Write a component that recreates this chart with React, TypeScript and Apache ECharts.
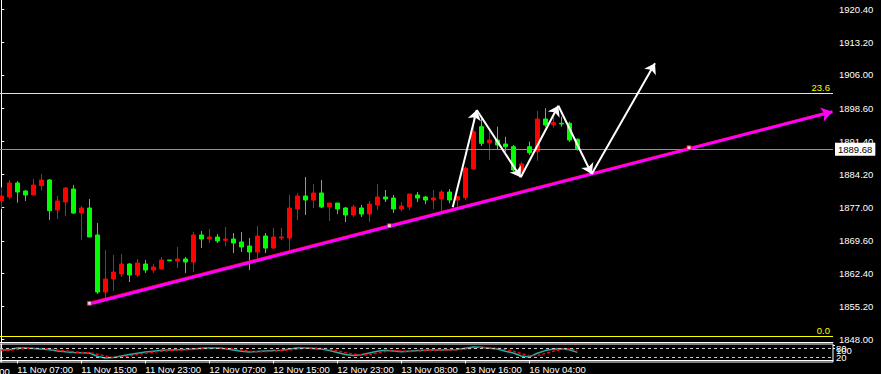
import React, { useEffect, useRef } from 'react';
import * as echarts from 'echarts';

// ---- Candles (H1), index 0 = 11 Nov 05:00 ----
const opens = [1878.42, 1879.22, 1882.29, 1880.54, 1879.66, 1881.70, 1882.95, 1876.37, 1878.12, 1880.97,
  1875.71, 1876.81, 1870.88, 1858.38, 1861.23, 1862.33, 1864.52, 1862.11, 1864.52, 1863.20,
  1863.42, 1865.40, 1865.18, 1865.62, 1864.96, 1870.88, 1870.00, 1870.44, 1869.72, 1870.00,
  1869.35, 1868.47, 1867.15, 1870.66, 1868.03, 1870.22, 1870.22, 1876.59, 1879.44, 1878.56,
  1880.10, 1877.03, 1877.90, 1876.81, 1875.27, 1876.81, 1875.49, 1877.46, 1879.22, 1879.00,
  1876.59, 1877.03, 1879.66, 1879.22, 1878.56, 1878.78, 1880.32, 1878.56, 1879.07, 1885.36,
  1894.64, 1891.13, 1891.72, 1890.85, 1890.25, 1884.86, 1890.25, 1889.16, 1896.33, 1895.08,
  1895.39, 1895.39, 1891.88];
const closes = [1879.44, 1882.29, 1880.32, 1879.66, 1881.85, 1882.95, 1876.22, 1878.34, 1881.19, 1875.71,
  1876.81, 1870.44, 1858.38, 1861.23, 1862.76, 1864.52, 1862.11, 1864.74, 1863.20, 1863.86,
  1865.40, 1865.25, 1865.62, 1864.96, 1870.88, 1870.00, 1870.44, 1869.57, 1870.00, 1869.13,
  1868.25, 1867.15, 1870.66, 1868.03, 1870.44, 1870.44, 1876.81, 1879.44, 1878.56, 1880.10,
  1877.03, 1877.90, 1876.59, 1875.27, 1877.03, 1875.49, 1877.68, 1879.22, 1878.78, 1876.59,
  1877.24, 1879.88, 1879.00, 1878.56, 1879.00, 1880.32, 1878.56, 1879.29, 1885.52, 1893.55,
  1891.00, 1891.72, 1890.63, 1890.25, 1885.14, 1886.46, 1888.94, 1896.33, 1895.02, 1895.52,
  1895.23, 1891.72, 1889.68];
const lows = [1876.59, 1878.78, 1877.98, 1878.34, 1879.66, 1880.61, 1874.17, 1874.39, 1875.05, 1875.49,
  1869.79, 1870.44, 1857.94, 1856.62, 1858.60, 1861.67, 1860.57, 1861.67, 1862.55, 1862.55,
  1863.42, 1865.25, 1863.64, 1862.55, 1862.76, 1868.03, 1869.13, 1869.13, 1868.47, 1866.93,
  1867.15, 1863.20, 1865.62, 1866.93, 1867.81, 1869.79, 1867.37, 1874.17, 1875.27, 1876.81,
  1876.81, 1873.95, 1875.49, 1873.73, 1874.83, 1874.83, 1873.73, 1876.37, 1878.12, 1875.71,
  1876.15, 1876.37, 1878.12, 1877.68, 1876.59, 1875.93, 1877.84, 1876.37, 1878.56, 1885.36,
  1890.41, 1887.34, 1889.75, 1889.16, 1884.77, 1884.42, 1888.43, 1887.18, 1894.64, 1894.42,
  1894.64, 1891.35, 1889.38];
const highs = [1881.35, 1882.95, 1882.73, 1880.75, 1883.17, 1884.27, 1883.17, 1879.44, 1881.41, 1881.85,
  1877.24, 1878.78, 1873.52, 1867.59, 1866.49, 1866.71, 1864.74, 1865.62, 1865.40, 1864.52,
  1866.06, 1865.40, 1868.25, 1866.06, 1871.54, 1871.76, 1872.20, 1871.10, 1872.64, 1871.32,
  1871.54, 1870.22, 1872.86, 1871.32, 1872.42, 1872.42, 1879.66, 1880.10, 1883.61, 1882.07,
  1882.95, 1877.90, 1877.90, 1877.03, 1877.46, 1877.46, 1878.34, 1882.07, 1880.75, 1879.66,
  1878.12, 1879.88, 1880.32, 1879.44, 1880.75, 1880.75, 1880.97, 1879.29, 1885.87, 1896.84,
  1896.84, 1893.55, 1894.64, 1892.45, 1890.63, 1886.96, 1891.35, 1898.09, 1898.68, 1896.84,
  1896.84, 1895.74, 1892.10];

// ---- Stochastic oscillator ----
const stochMain = [70, 72, 84, 84, 80, 76, 72, 64, 58, 54, 52, 50, 28, 16, 20, 30, 40, 48, 56, 62,
  68, 70, 72, 74, 76, 82, 84, 84, 78, 70, 62, 56, 60, 64, 66, 68, 76, 84, 84, 80,
  76, 66, 54, 40, 34, 38, 50, 62, 68, 64, 58, 62, 66, 68, 70, 70, 72, 74, 82, 90,
  88, 82, 76, 62, 50, 30, 24, 48, 66, 76, 78, 72, 54];
const stochSignal = [66, 68, 74, 80, 82, 80, 76, 70, 64, 58, 54, 52, 42, 30, 20, 22, 30, 40, 48, 56,
  62, 66, 70, 72, 74, 78, 80, 84, 82, 78, 70, 62, 58, 60, 62, 66, 70, 76, 82, 84,
  80, 74, 64, 52, 42, 36, 40, 50, 60, 66, 64, 60, 62, 66, 68, 70, 70, 72, 76, 82,
  88, 86, 82, 74, 62, 46, 32, 34, 46, 62, 74, 78, 68];
const stochLevels = [20, 80];
const stochTicks = [20, 80, 100];

// ---- Axis ticks ----
const priceTicks = [1848.0, 1855.2, 1862.4, 1869.6, 1877.0, 1884.2, 1891.4, 1898.6, 1906.0, 1913.2, 1920.4];
const timeTickIdx = [-6, 2, 10, 18, 26, 34, 42, 50, 58, 66];
const timeTickText = ['10 Nov 23:00', '11 Nov 07:00', '11 Nov 15:00', '11 Nov 23:00', '12 Nov 07:00',
  '12 Nov 15:00', '12 Nov 23:00', '13 Nov 08:00', '13 Nov 16:00', '16 Nov 04:00'];

// ---- Objects ----
const fibLevels = [1901.97, 1848.72];
const fibLabels = ['23.6', '0.0'];
const bidPrice = 1889.68;
const trendStart = [11, 1855.74];
const trendEnd = [103.9, 1897.93];
const anchorX = [11, 48.5, 85.96];
const anchorY = [1855.9, 1872.92, 1890.04];
const zigX = [56.43, 59.43, 64.93, 69.63, 73.8, 81.71];
const zigY = [1876.96, 1898.31, 1883.54, 1899.25, 1884.27, 1908.55];

export default function App() {
  const ref = useRef<HTMLDivElement>(null);
  useEffect(() => {
    const chart = echarts.init(ref.current!, null, { renderer: 'svg' });
    const X_MIN = -0.1625;
    const X_MAX = 103.9625;
    const font = 'Liberation Sans';
    const candleData = opens.map((o, i) => [i, o, closes[i], lows[i], highs[i]]);
    const zigSegs = zigX.slice(1).map((x, i) => ({ coords: [[zigX[i], zigY[i]], [x, zigY[i + 1]]] }));
    const visIdx = timeTickIdx.filter((v) => v >= X_MIN);
    // one axis per oscillator tick label so the overlapping labels are all kept
    const oscAxis = (tick: number, showLine: boolean) => ({
      type: 'value', gridIndex: 1, position: 'right', min: -10, max: 110,
      axisLine: { show: showLine, lineStyle: { color: '#fff', width: 1 } },
      axisTick: { show: true, length: 2, customValues: [tick], lineStyle: { color: '#fff' } },
      axisLabel: {
        show: true, customValues: [tick], color: '#fff', fontSize: 9.5, fontFamily: font, margin: 3,
        hideOverlap: false, verticalAlign: tick === 100 ? 'top' : 'middle',
        formatter: (v: number) => String(Math.round(v)),
      },
      splitLine: { show: false },
    });
    const option: any = {
      animation: false,
      backgroundColor: '#000',
      grid: [
        { left: 0, right: 48, top: 0, bottom: 32 },
        { left: 0, right: 48, top: 344, bottom: 10, show: true, borderColor: '#fff', borderWidth: 1, backgroundColor: '#000' },
      ],
      xAxis: [
        {
          type: 'value', gridIndex: 0, min: X_MIN, max: X_MAX,
          axisLine: { show: true, lineStyle: { color: '#fff', width: 1 } },
          axisTick: { show: false }, axisLabel: { show: false }, splitLine: { show: false },
        },
        {
          type: 'value', gridIndex: 1, min: X_MIN, max: X_MAX,
          axisLine: { show: true, lineStyle: { color: '#fff', width: 1 } },
          axisTick: { show: true, length: 3, customValues: visIdx, lineStyle: { color: '#fff' } },
          axisLabel: {
            show: true, customValues: visIdx, color: '#fff', fontSize: 9.5, fontFamily: font, align: 'left', margin: 2,
            hideOverlap: false,
            formatter: (v: number) => timeTickText[timeTickIdx.indexOf(Math.round(v))] || '',
          },
          splitLine: { show: false },
        },
      ],
      yAxis: [
        {
          type: 'value', gridIndex: 0, position: 'right', min: 1847.41, max: 1922.44,
          axisLine: { show: true, lineStyle: { color: '#fff', width: 1 } },
          axisTick: { show: true, length: 3, customValues: priceTicks, lineStyle: { color: '#fff' } },
          axisLabel: {
            show: true, customValues: priceTicks, color: '#fff', fontSize: 9.5, fontFamily: font, margin: 6,
            hideOverlap: false,
            formatter: (v: number) => v.toFixed(2),
          },
          splitLine: { show: false },
        },
        ...stochTicks.map((t, i) => oscAxis(t, i === 0)),
      ],
      series: [
        {
          type: 'candlestick', xAxisIndex: 0, yAxisIndex: 0, data: candleData, barWidth: 4, z: 3,
          itemStyle: { color: '#ff0000', color0: '#00ff00', borderColor: '#ff0000', borderColor0: '#00ff00', borderWidth: 1 },
          markLine: {
            symbol: 'none', silent: true, animation: false,
            data: [
              ...fibLevels.map((v, i) => ({
                yAxis: v,
                lineStyle: { color: '#ffff00', width: 1, type: 'solid' },
                label: { show: true, formatter: fibLabels[i], position: 'insideEndTop', color: '#ffff00', fontSize: 9.5, fontFamily: font, distance: [3, 1] },
              })),
              {
                yAxis: bidPrice,
                lineStyle: { color: '#8e9096', width: 1, type: 'solid' },
                label: {
                  show: true, formatter: bidPrice.toFixed(2), position: 'end', distance: 2,
                  backgroundColor: '#fff', color: '#000', padding: [2, 3, 1, 3], fontSize: 9.5, fontFamily: font,
                },
              },
            ],
          },
        },
        {
          type: 'lines', coordinateSystem: 'cartesian2d', xAxisIndex: 0, yAxisIndex: 0, z: 4, clip: false,
          data: [{ coords: [[trendStart[0], trendStart[1] + 0.4], [trendEnd[0] - 0.6, trendEnd[1]]] }],
          lineStyle: { color: '#ff0000', width: 1, opacity: 1 }, symbol: 'none',
        },
        {
          type: 'lines', coordinateSystem: 'cartesian2d', xAxisIndex: 0, yAxisIndex: 0, z: 5, clip: false,
          data: [{ coords: [trendStart, trendEnd] }],
          lineStyle: { color: '#ff00ff', width: 3, opacity: 1 }, symbol: ['none', 'arrow'], symbolSize: 11,
        },
        {
          type: 'lines', coordinateSystem: 'cartesian2d', xAxisIndex: 0, yAxisIndex: 0, z: 6, clip: false,
          data: zigSegs,
          lineStyle: { color: '#ffffff', width: 2, opacity: 1 }, symbol: ['none', 'arrow'], symbolSize: 10,
        },
        {
          type: 'scatter', xAxisIndex: 0, yAxisIndex: 0, z: 7,
          data: anchorX.map((x, i) => [x, anchorY[i]]),
          symbol: 'rect', symbolSize: 4,
          itemStyle: { color: '#ffffff', borderColor: '#ff0000', borderWidth: 1 },
        },
        {
          type: 'line', xAxisIndex: 1, yAxisIndex: 1, showSymbol: false, z: 3,
          data: stochMain.map((v, i) => [i, v]),
          lineStyle: { color: '#20b2aa', width: 1.5 },
          markLine: {
            symbol: 'none', silent: true, animation: false, label: { show: false },
            data: stochLevels.map((v) => ({ yAxis: v })),
            lineStyle: { color: '#c8c8c8', width: 1, type: [3, 3] },
          },
        },
        {
          type: 'line', xAxisIndex: 1, yAxisIndex: 1, showSymbol: false, z: 4,
          data: stochSignal.map((v, i) => [i, v]),
          lineStyle: { color: '#ff0000', width: 1.5, type: [3, 2] },
        },
      ],
    };
    chart.setOption(option);
    const px = chart.convertToPixel({ xAxisIndex: 1 }, timeTickIdx[0]) as number;
    chart.setOption({
      graphic: [
        {
          type: 'text', x: px, y: 366, silent: true,
          style: { text: timeTickText[0], fill: '#fff', font: `9.5px "${font}"`, align: 'left', verticalAlign: 'top' },
        },
      ],
    });
    return () => chart.dispose();
  }, []);
  return <div ref={ref} style={{ position: 'absolute', left: 0, top: 0, width: 881, height: 374 }} />;
}
